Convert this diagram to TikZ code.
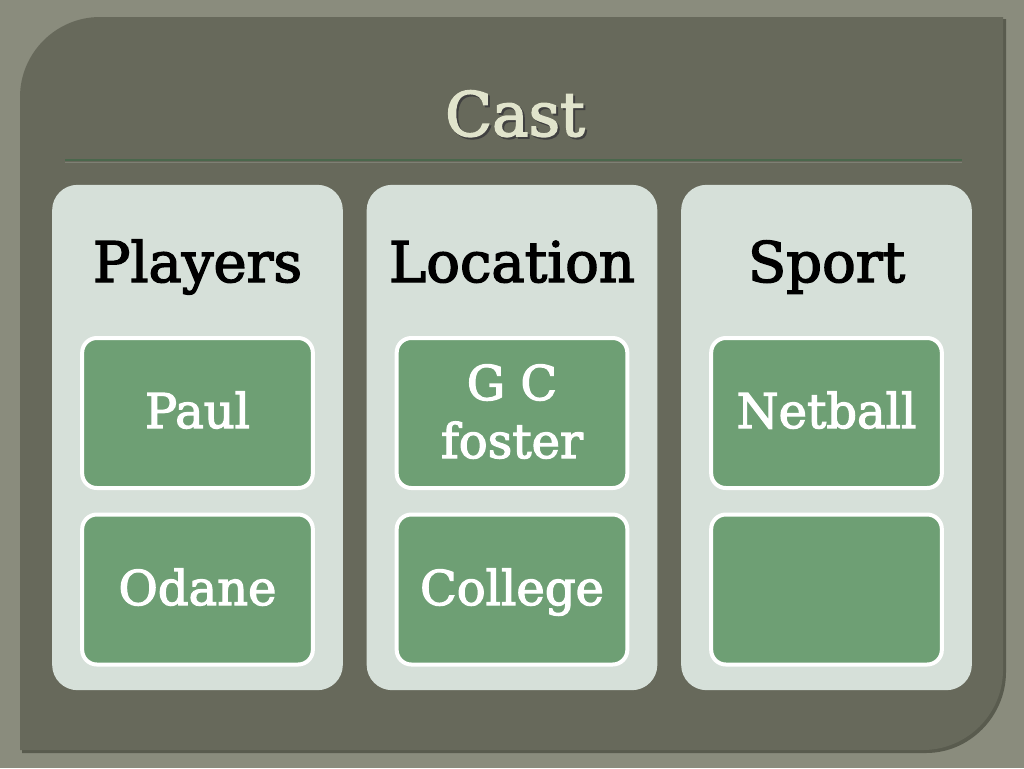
\documentclass[tikz,border=0pt]{standalone}
\usepackage{fontspec}
\setmainfont{DejaVu Serif}
\newfontfamily\castfont{DejaVu Serif}[FakeBold=2.5]
\usepackage{tikz}

\definecolor{castbg}{HTML}{8A8C7D}
\definecolor{castpanel}{HTML}{67695B}
\definecolor{castshade}{HTML}{595B4E}
\definecolor{castline}{HTML}{4A674C}
\definecolor{castcream}{HTML}{E1E4CC}
\definecolor{castlight}{HTML}{D6E0D9}
\definecolor{castgreen}{HTML}{6E9F74}

\begin{document}
\begin{tikzpicture}[x=0.75pt, y=-0.75pt,
        column/.style={fill=castlight, rounded corners=19pt, minimum width=218pt, minimum height=379pt},
        header/.style={anchor=base, text=black, font=\castfont\fontsize{42}{50}\selectfont},
        item/.style={fill=castgreen, draw=white, line width=3pt, rounded corners=11pt,
                     minimum width=173pt, minimum height=112.5pt},
        itemtext/.style={anchor=base, text=white, align=center, font=\castfont\fontsize{36}{43.5}\selectfont}]
        \useasboundingbox (0,0) rectangle (1024,768);
        \fill[castbg] (0,0) rectangle (1024,768);
        % panel
        \fill[castshade] (22,753) -- (22,99) .. controls (22,55) and (58,19) .. (102,19) -- (1006,19) -- (1006,672) .. controls (1006,716) and (970,753) .. (926,753) -- cycle;
        \fill[castpanel] (20,750) -- (20,97) .. controls (20,53) and (56,17) .. (100,17) -- (1003,17) -- (1003,670) .. controls (1003,714) and (967,750) .. (923,750) -- cycle;
        % title
        \node[anchor=base, text=black!75, font=\castfont\fontsize{46}{54}\selectfont] (castshadow) at (517,138) {Cast};
        \node[anchor=base, text=castcream, font=\castfont\fontsize{46}{54}\selectfont] (cast) at (515,136) {Cast};
        \draw[castline, line width=2pt] (65,160) -- (962,160);
        \draw[castpanel!85!white, line width=0.6pt] (65,162.5) -- (962,162.5);
        % columns
        \node[column] (players) at (197.5,437.5) {};
        \node[column] (location) at (512,437.5) {};
        \node[column] (sport) at (826.5,437.5) {};
        \node[header] (playershead) at (197.5,282) {Players};
        \node[header] (locationhead) at (512,282) {Location};
        \node[header] (sporthead) at (826.5,282) {Sport};
        % items
        \node[item] (paul) at (197.5,413) {};
        \node[item] (odane) at (197.5,589.5) {};
        \node[item] (gcfoster) at (512,413) {};
        \node[item] (college) at (512,589.5) {};
        \node[item] (netball) at (826.5,413) {};
        \node[item] (empty) at (826.5,589.5) {};
        \node[itemtext] (paultext) at (197.5,428) {Paul};
        \node[itemtext] (odanetext) at (197.5,605) {Odane};
        \node[itemtext] (gcfostertext) at (512,458) {G C\\foster};
        \node[itemtext] (collegetext) at (512,605) {College};
        \node[itemtext] (netballtext) at (826.5,428) {Netball};
\end{tikzpicture}
\end{document}
